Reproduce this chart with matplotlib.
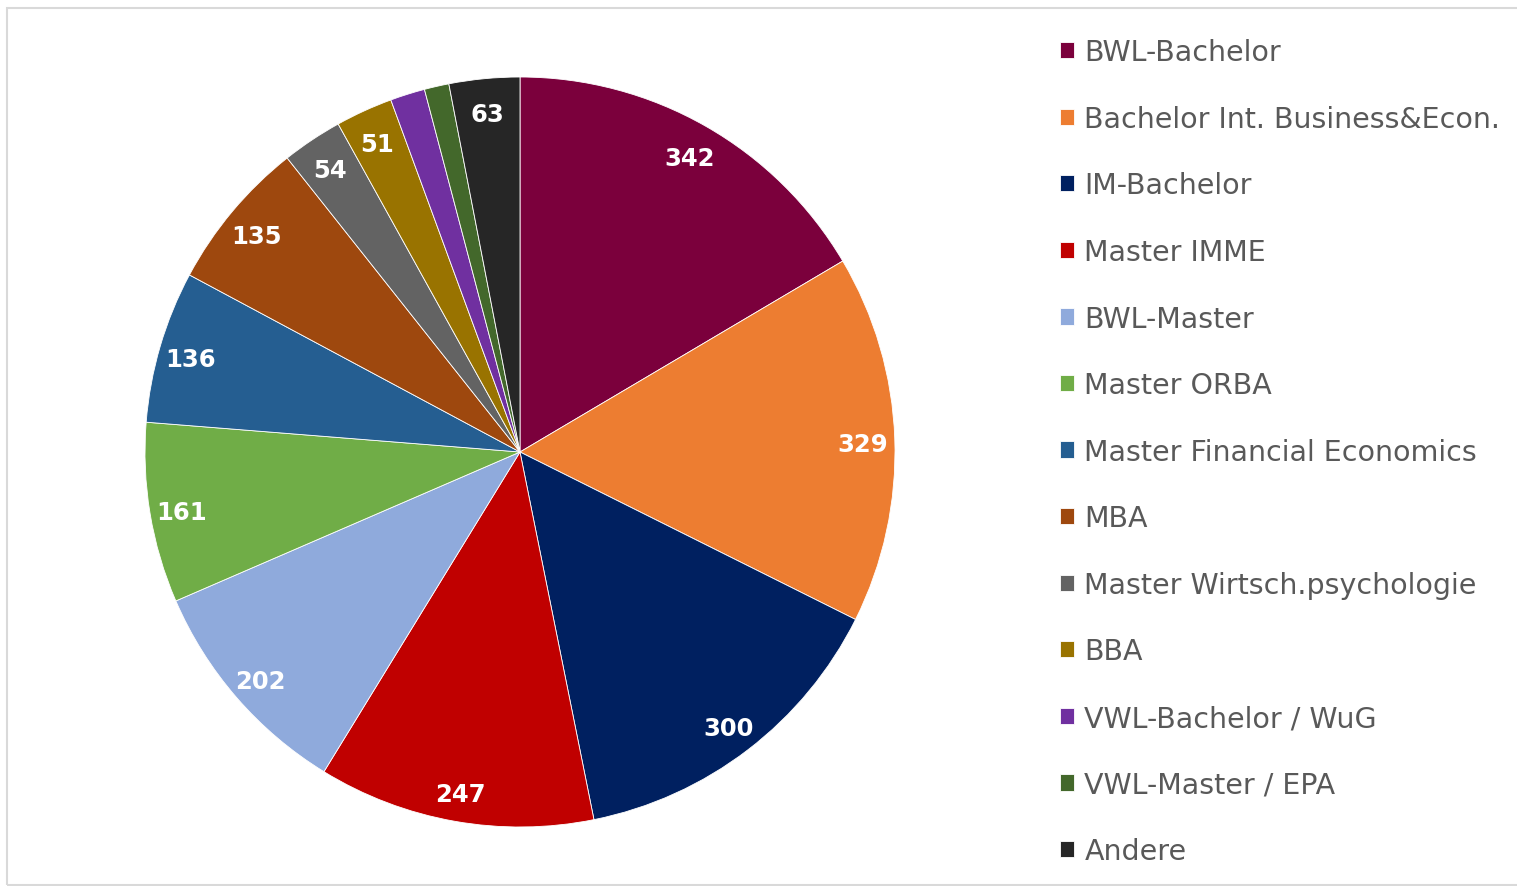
import matplotlib
matplotlib.use("Agg")
import numpy as np
import matplotlib.pyplot as plt
from matplotlib.patches import Rectangle

# Studiengaenge
labels = ["BWL-Bachelor", "Bachelor Int. Business&Econ.", "IM-Bachelor",
          "Master IMME", "BWL-Master", "Master ORBA",
          "Master Financial Economics", "MBA", "Master Wirtsch.psychologie",
          "BBA", "VWL-Bachelor / WuG", "VWL-Master / EPA", "Andere"]
values = [342, 329, 300, 247, 202, 161, 136, 135, 54, 51, 31, 22, 63]
show_label = [True] * 10 + [False, False, True]
colors = ["#7B003C", "#ED7D31", "#002060", "#C00000", "#8FAADC", "#70AD47",
          "#255E91", "#9E480E", "#636363", "#997300", "#7030A0", "#43682B",
          "#262626"]

W, H = 1517, 887
fig = plt.figure(figsize=(W / 100, H / 100), dpi=100)

cx, cy, r = 520, 453, 375
ax = fig.add_axes([(cx - r) / W, (H - cy - r) / H, 2 * r / W, 2 * r / H])

wedges, texts = ax.pie(values, colors=colors, startangle=90, counterclock=False,
                       radius=1.0, wedgeprops=dict(edgecolor="white", linewidth=0.6))
ax.set_xlim(-1, 1)
ax.set_ylim(-1, 1)
ax.set_aspect("equal")
ax.axis("off")

tot = sum(values)
ang = 90.0
for v, show in zip(values, show_label):
    mid = ang - v / tot * 360 / 2
    ang -= v / tot * 360
    if not show:
        continue
    d = 0.915
    ax.text(d * np.cos(np.radians(mid)), d * np.sin(np.radians(mid)) - 0.01, str(v),
            ha="center", va="center", color="white", fontsize=17.5,
            fontweight="bold", family="DejaVu Sans")

leg = fig.legend(wedges, labels, loc="upper left",
                 bbox_to_anchor=(1046 / W, 1 - 25 / H), frameon=False,
                 fontsize=20.5, handlelength=0.5, handleheight=0.5,
                 handletextpad=0.35, labelspacing=1.355, borderpad=0)
for t in leg.get_texts():
    t.set_color("#595959")

fig.patches.append(Rectangle((7 / W, 1 / H), 1.2, (886 - 9) / H,
                             transform=fig.transFigure, fill=False,
                             edgecolor="#D9D9D9", linewidth=1.5))

fig.savefig("out.png", dpi=100)
